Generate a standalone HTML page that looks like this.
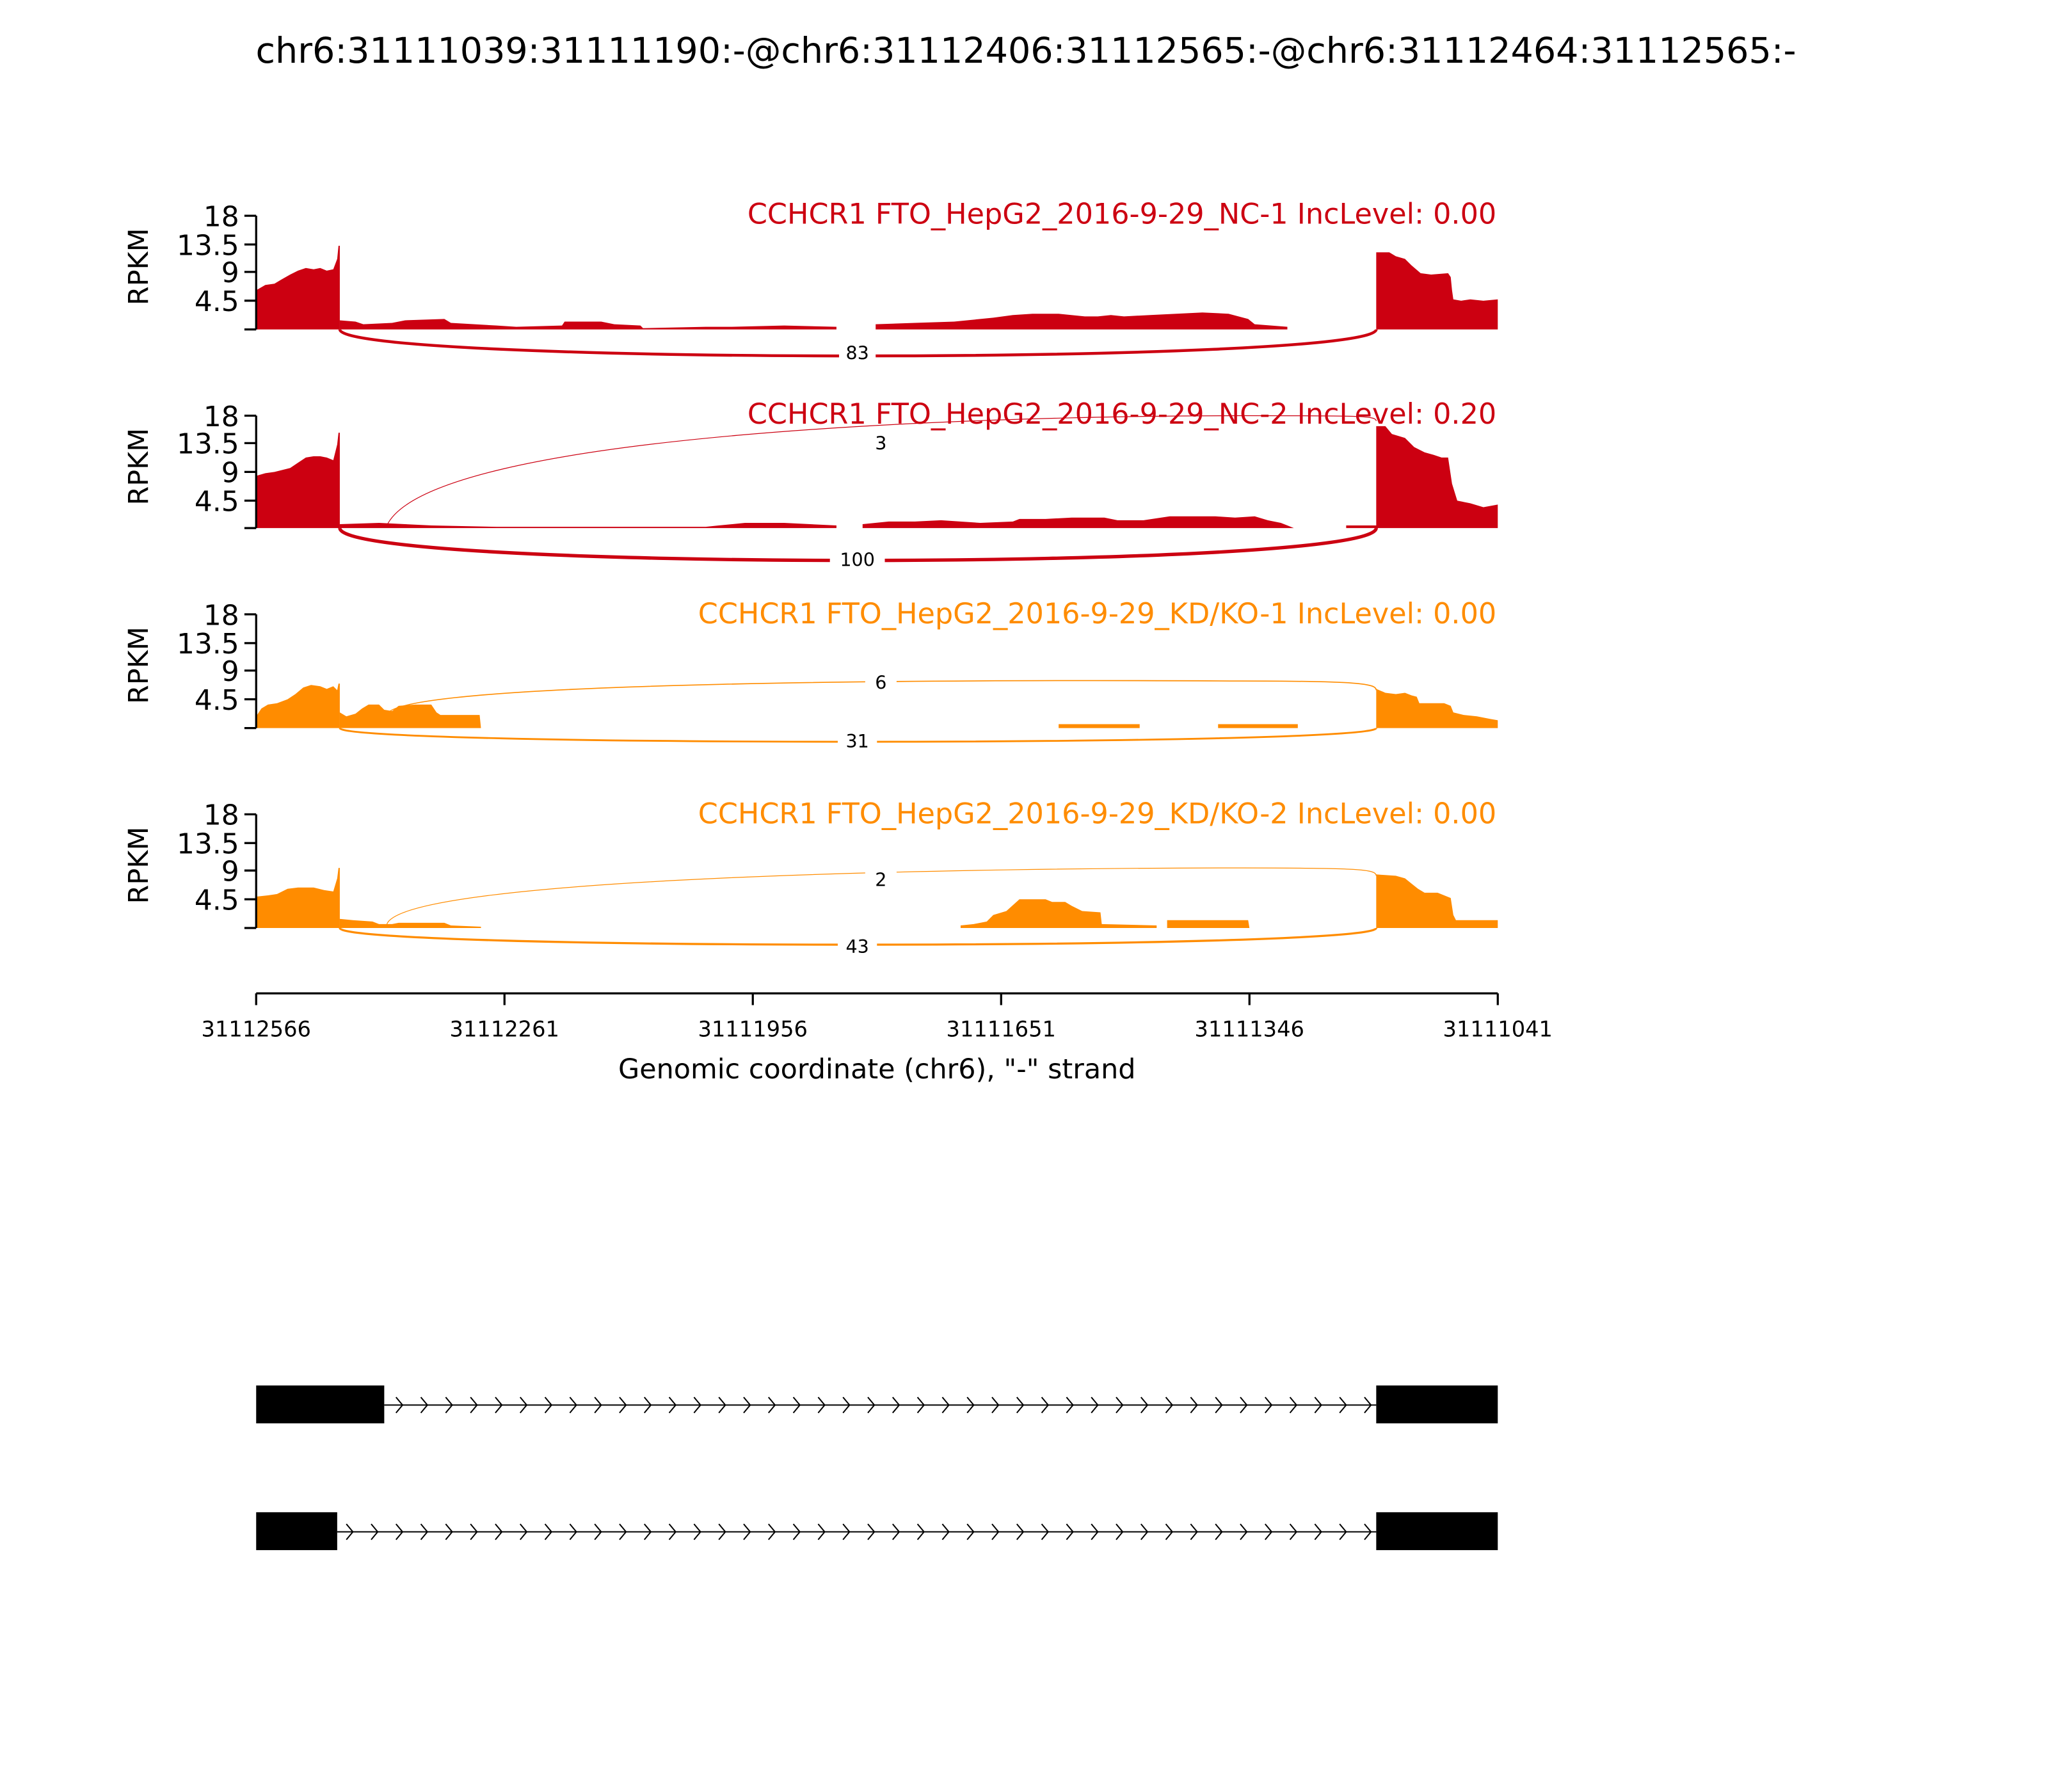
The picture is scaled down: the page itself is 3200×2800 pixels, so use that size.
<!DOCTYPE html>
<html><head><meta charset="utf-8"><style>html,body{margin:0;padding:0;background:#fff}svg{display:block}text{font-family:"DejaVu Sans","Liberation Sans",sans-serif}</style></head>
<body>
<svg width="3200" height="2800" viewBox="0 0 1567 1371" xmlns="http://www.w3.org/2000/svg">
<rect width="1567" height="1371" fill="#fff"/>
<text x="785" y="48" font-size="27.2" text-anchor="middle">chr6:31111039:31111190:-@chr6:31112406:31112565:-@chr6:31112464:31112565:-</text>

<!-- Panel 1 -->
<g>
<polygon fill="#cc0011" points="196,252 196,222 203,218 210,217 215,214 222,210 228,207 234,205 240,206 245,205 250,207 255,206 258,198 259,188 260,188 260,252"/>
<polygon fill="#cc0011" points="260,252 260,245 272,246 278,248 300,247 310,245 340,244 345,247 380,249 395,250 430,249 432,246 460,246 470,248 490,249 492,251 540,250 560,250 600,249 640,250 640,252"/>
<polygon fill="#cc0011" points="670,252 670,248 700,247 730,246 760,243 775,241 790,240 810,240 830,242 840,242 850,241 860,242 880,241 900,240 920,239 940,240 955,244 960,248 985,250 985,252"/>
<polygon fill="#cc0011" points="1053,252 1053,193 1063,193 1068,196 1075,198 1080,203 1087,209 1095,210 1108,209 1110,212 1111,222 1112,229 1118,230 1125,229 1135,230 1146,229 1146,252"/>
<path d="M260,252 C260,279 1053,279 1053,252" fill="none" stroke="#cc0011" stroke-width="2.2"/>
<rect x="642" y="261" width="28" height="17" fill="#fff"/>
<text x="656" y="275" font-size="14" text-anchor="middle">83</text>
<text x="1145" y="171" font-size="21.8" fill="#cc0011" text-anchor="end">CCHCR1 FTO_HepG2_2016-9-29_NC-1 IncLevel: 0.00</text>
</g>

<!-- Panel 2 -->
<g>
<polygon fill="#cc0011" points="196,404 196,364 203,362 210,361 222,358 228,354 234,350 240,349 245,349 250,350 255,352 258,340 259,331 260,331 260,404"/>
<polygon fill="#cc0011" points="260,404 260,401 290,400 310,401 330,402 380,403 480,403 540,403 550,402 570,400 600,400 640,402 640,404"/>
<polygon fill="#cc0011" points="660,404 660,401 680,399 700,399 720,398 750,400 775,399 780,397 800,397 820,396 845,396 855,398 875,398 895,395 910,395 930,395 945,396 960,395 970,398 980,400 985,402 990,404"/>
<polygon fill="#cc0011" points="1030,404 1030,402 1053,402 1053,326 1060,326 1065,332 1075,335 1082,342 1090,346 1097,348 1103,350 1108,350 1111,370 1115,383 1125,385 1135,388 1146,386 1146,404"/>
<path d="M296,402 C330,330 760,318 950,318 C1040,318 1053,318 1053,322" fill="none" stroke="#cc0011" stroke-width="0.6"/>
<path d="M260,404 C260,437 1053,437 1053,404" fill="none" stroke="#cc0011" stroke-width="2.6"/>
<rect x="662" y="331" width="24" height="17" fill="#fff"/>
<text x="674" y="344" font-size="14" text-anchor="middle">3</text>
<rect x="635" y="419" width="42" height="17" fill="#fff"/>
<text x="656" y="433" font-size="14" text-anchor="middle">100</text>
<text x="1145" y="324" font-size="21.8" fill="#cc0011" text-anchor="end">CCHCR1 FTO_HepG2_2016-9-29_NC-2 IncLevel: 0.20</text>
</g>

<!-- Panel 3 -->
<g>
<polygon fill="#ff8c00" points="196,557 196,548 200,542 205,539 212,538 220,535 226,531 232,526 238,524 245,525 250,527 255,525 258,528 259,523 260,523 260,557"/>
<polygon fill="#ff8c00" points="260,557 260,545 265,548 272,546 277,542 282,539 290,539 294,543 300,544 305,540 318,539 330,539 334,545 337,547 367,547 368,557"/>
<polygon fill="#ff8c00" points="810,557 810,554 872,554 872,557"/>
<polygon fill="#ff8c00" points="932,557 932,554 993,554 993,557"/>
<polygon fill="#ff8c00" points="1053,557 1053,527 1060,530 1068,531 1075,530 1080,532 1084,533 1086,538 1095,538 1105,538 1110,540 1112,545 1120,547 1130,548 1140,550 1146,551 1146,557"/>
<path d="M296,547 C300,520 760,520 950,521 C1040,521 1053,523 1053,528" fill="none" stroke="#ff8c00" stroke-width="0.8"/>
<path d="M260,557 C260,571 1053,571 1053,557" fill="none" stroke="#ff8c00" stroke-width="1.4"/>
<rect x="662" y="514" width="24" height="17" fill="#fff"/>
<text x="674" y="527" font-size="14" text-anchor="middle">6</text>
<rect x="641" y="558" width="30" height="17" fill="#fff"/>
<text x="656" y="572" font-size="14" text-anchor="middle">31</text>
<text x="1145" y="477" font-size="21.8" fill="#ff8c00" text-anchor="end">CCHCR1 FTO_HepG2_2016-9-29_KD/KO-1 IncLevel: 0.00</text>
</g>

<!-- Panel 4 -->
<g>
<polygon fill="#ff8c00" points="196,710 196,686 205,685 212,684 220,680 228,679 240,679 248,681 255,682 258,672 259,664 260,664 260,710"/>
<polygon fill="#ff8c00" points="260,710 260,703 270,704 285,705 290,707 300,707 305,706 340,706 345,708 368,709 368,710"/>
<polygon fill="#ff8c00" points="735,710 735,708 745,707 755,705 760,700 770,697 780,688 800,688 805,690 815,690 820,693 828,697 842,698 843,707 885,708 885,710"/>
<polygon fill="#ff8c00" points="893,710 893,704 955,704 956,710"/>
<polygon fill="#ff8c00" points="1053,710 1053,669 1068,670 1075,672 1080,676 1085,680 1090,683 1100,683 1110,687 1112,700 1114,704 1146,704 1146,710"/>
<path d="M296,707 C310,670 760,664 950,664 C1040,664 1053,665 1053,670" fill="none" stroke="#ff8c00" stroke-width="0.6"/>
<path d="M260,710 C260,727 1053,727 1053,710" fill="none" stroke="#ff8c00" stroke-width="1.6"/>
<rect x="662" y="665" width="24" height="17" fill="#fff"/>
<text x="674" y="678" font-size="14" text-anchor="middle">2</text>
<rect x="641" y="715" width="30" height="17" fill="#fff"/>
<text x="656" y="729" font-size="14" text-anchor="middle">43</text>
<text x="1145" y="630" font-size="21.8" fill="#ff8c00" text-anchor="end">CCHCR1 FTO_HepG2_2016-9-29_KD/KO-2 IncLevel: 0.00</text>
</g>

<!-- axes -->
<g stroke="#000" stroke-width="1.6" fill="none">
<path d="M196,165 V252 M187,165 H196 M187,187 H196 M187,208 H196 M187,230 H196 M187,252 H196"/>
<path d="M196,318 V404 M187,318 H196 M187,339 H196 M187,361 H196 M187,383 H196 M187,404 H196"/>
<path d="M196,470 V557 M187,470 H196 M187,492 H196 M187,513 H196 M187,535 H196 M187,557 H196"/>
<path d="M196,623 V710 M187,623 H196 M187,645 H196 M187,666 H196 M187,688 H196 M187,710 H196"/>
<path d="M196,760 H1146 M196,760 V769 M386,760 V769 M576,760 V769 M766,760 V769 M956,760 V769 M1146,760 V769"/>
</g>
<g font-size="21.5" text-anchor="end">
<text x="183" y="173">18</text><text x="183" y="195">13.5</text><text x="183" y="216">9</text><text x="183" y="238">4.5</text>
<text x="183" y="326">18</text><text x="183" y="347">13.5</text><text x="183" y="369">9</text><text x="183" y="391">4.5</text>
<text x="183" y="478">18</text><text x="183" y="500">13.5</text><text x="183" y="521">9</text><text x="183" y="543">4.5</text>
<text x="183" y="631">18</text><text x="183" y="653">13.5</text><text x="183" y="674">9</text><text x="183" y="696">4.5</text>
</g>
<g font-size="21" text-anchor="middle">
<text transform="translate(113,204) rotate(-90)">RPKM</text>
<text transform="translate(113,357) rotate(-90)">RPKM</text>
<text transform="translate(113,509) rotate(-90)">RPKM</text>
<text transform="translate(113,662) rotate(-90)">RPKM</text>
</g>
<g font-size="16.5" text-anchor="middle">
<text x="196" y="793">31112566</text><text x="386" y="793">31112261</text><text x="576" y="793">31111956</text>
<text x="766" y="793">31111651</text><text x="956" y="793">31111346</text><text x="1146" y="793">31111041</text>
</g>
<text x="671" y="825" font-size="21" text-anchor="middle">Genomic coordinate (chr6), "-" strand</text>

<!-- gene models -->
<g>
<rect x="196" y="1060" width="98" height="29" fill="#000"/>
<rect x="1053" y="1060" width="93" height="29" fill="#000"/>
<line x1="294" y1="1075" x2="1053" y2="1075" stroke="#000" stroke-width="1"/>
<rect x="196" y="1157" width="62" height="29" fill="#000"/>
<rect x="1053" y="1157" width="93" height="29" fill="#000"/>
<line x1="258" y1="1172" x2="1053" y2="1172" stroke="#000" stroke-width="1"/>
<path fill="none" stroke="#000" stroke-width="1" d="
M303,1069 l5,6 l-5,6 M322,1069 l5,6 l-5,6 M341,1069 l5,6 l-5,6 M360,1069 l5,6 l-5,6 M379,1069 l5,6 l-5,6 M398,1069 l5,6 l-5,6 M417,1069 l5,6 l-5,6 M436,1069 l5,6 l-5,6 M455,1069 l5,6 l-5,6 M474,1069 l5,6 l-5,6 M493,1069 l5,6 l-5,6 M512,1069 l5,6 l-5,6 M531,1069 l5,6 l-5,6 M550,1069 l5,6 l-5,6 M569,1069 l5,6 l-5,6 M588,1069 l5,6 l-5,6 M607,1069 l5,6 l-5,6 M626,1069 l5,6 l-5,6 M645,1069 l5,6 l-5,6 M664,1069 l5,6 l-5,6 M683,1069 l5,6 l-5,6 M702,1069 l5,6 l-5,6 M721,1069 l5,6 l-5,6 M740,1069 l5,6 l-5,6 M759,1069 l5,6 l-5,6 M778,1069 l5,6 l-5,6 M797,1069 l5,6 l-5,6 M816,1069 l5,6 l-5,6 M835,1069 l5,6 l-5,6 M854,1069 l5,6 l-5,6 M873,1069 l5,6 l-5,6 M892,1069 l5,6 l-5,6 M911,1069 l5,6 l-5,6 M930,1069 l5,6 l-5,6 M949,1069 l5,6 l-5,6 M968,1069 l5,6 l-5,6 M987,1069 l5,6 l-5,6 M1006,1069 l5,6 l-5,6 M1025,1069 l5,6 l-5,6 M1044,1069 l5,6 l-5,6"/>
<path fill="none" stroke="#000" stroke-width="1" d="
M265,1166 l5,6 l-5,6 M284,1166 l5,6 l-5,6 M303,1166 l5,6 l-5,6 M322,1166 l5,6 l-5,6 M341,1166 l5,6 l-5,6 M360,1166 l5,6 l-5,6 M379,1166 l5,6 l-5,6 M398,1166 l5,6 l-5,6 M417,1166 l5,6 l-5,6 M436,1166 l5,6 l-5,6 M455,1166 l5,6 l-5,6 M474,1166 l5,6 l-5,6 M493,1166 l5,6 l-5,6 M512,1166 l5,6 l-5,6 M531,1166 l5,6 l-5,6 M550,1166 l5,6 l-5,6 M569,1166 l5,6 l-5,6 M588,1166 l5,6 l-5,6 M607,1166 l5,6 l-5,6 M626,1166 l5,6 l-5,6 M645,1166 l5,6 l-5,6 M664,1166 l5,6 l-5,6 M683,1166 l5,6 l-5,6 M702,1166 l5,6 l-5,6 M721,1166 l5,6 l-5,6 M740,1166 l5,6 l-5,6 M759,1166 l5,6 l-5,6 M778,1166 l5,6 l-5,6 M797,1166 l5,6 l-5,6 M816,1166 l5,6 l-5,6 M835,1166 l5,6 l-5,6 M854,1166 l5,6 l-5,6 M873,1166 l5,6 l-5,6 M892,1166 l5,6 l-5,6 M911,1166 l5,6 l-5,6 M930,1166 l5,6 l-5,6 M949,1166 l5,6 l-5,6 M968,1166 l5,6 l-5,6 M987,1166 l5,6 l-5,6 M1006,1166 l5,6 l-5,6 M1025,1166 l5,6 l-5,6 M1044,1166 l5,6 l-5,6"/>
</g>
</svg>
</body></html>
